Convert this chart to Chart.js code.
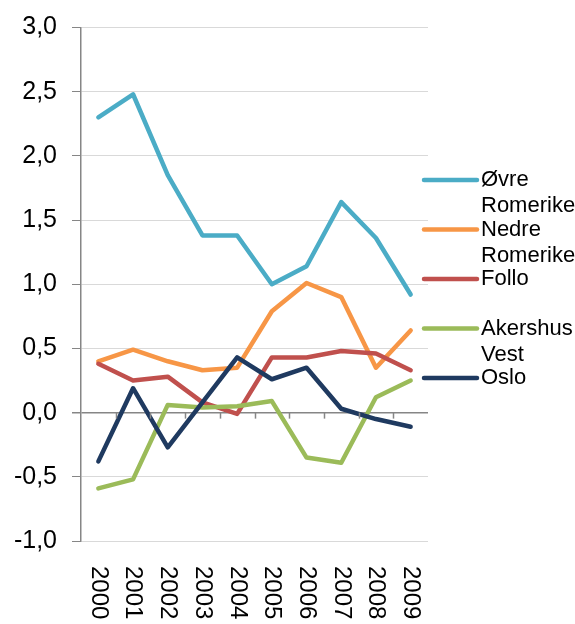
<!DOCTYPE html>
<html>
<head>
<meta charset="utf-8">
<script src="https://cdn.jsdelivr.net/npm/chart.js@4/dist/chart.umd.min.js"></script>
<style>
  html, body { margin: 0; padding: 0; background: #fff; }
  #wrap { width: 575px; height: 624px; }
</style>
</head>
<body>
<div id="wrap"><canvas id="chart" width="575" height="624"></canvas></div>
<script>
// data
const years = ["2000", "2001", "2002", "2003", "2004", "2005", "2006", "2007", "2008", "2009"];
const ovreRomerike = [2.30, 2.48, 1.85, 1.38, 1.38, 1.00, 1.14, 1.64, 1.36, 0.92];
const nedreRomerike = [0.40, 0.49, 0.40, 0.33, 0.35, 0.79, 1.01, 0.90, 0.35, 0.64];
const follo = [0.38, 0.25, 0.28, 0.08, -0.01, 0.43, 0.43, 0.48, 0.46, 0.33];
const akershusVest = [-0.59, -0.52, 0.06, 0.04, 0.05, 0.09, -0.35, -0.39, 0.12, 0.25];
const oslo = [-0.38, 0.19, -0.27, 0.08, 0.43, 0.26, 0.35, 0.03, -0.05, -0.11];

const seriesNames = [["Øvre", "Romerike"], ["Nedre", "Romerike"], ["Follo"], ["Akershus", "Vest"], ["Oslo"]];
const seriesColors = ["#4BACC6", "#F79646", "#C0504D", "#9BBB59", "#1F3A60"];
const seriesValues = [ovreRomerike, nedreRomerike, follo, akershusVest, oslo];

const FONT = "'Liberation Sans', Arial, sans-serif";
const axisGray = "#868686";

function makeDataset(i) {
    return {
        label: seriesNames[i].join(" "),
        data: seriesValues[i],
        borderColor: seriesColors[i],
        backgroundColor: seriesColors[i],
        borderWidth: 4.5,
        pointRadius: 0,
        tension: 0,
        borderCapStyle: "round",
        borderJoinStyle: "round",
        order: seriesValues.length - i   // later series drawn on top, like Excel
    };
}

// rotated year labels + small ticks on the zero line
const axisExtras = {
    id: "axisExtras",
    afterDraw(chart) {
        const ctx = chart.ctx;
        const x = chart.scales.x;
        const y = chart.scales.y;
        const zeroY = y.getPixelForValue(0);

        ctx.save();
        ctx.strokeStyle = axisGray;
        ctx.lineWidth = 1.5;
        for (let i = 0; i < years.length - 1; i++) {
            const bx = Math.round((x.getPixelForValue(i) + x.getPixelForValue(i + 1)) / 2) + 0.5;
            ctx.beginPath();
            ctx.moveTo(bx, zeroY);
            ctx.lineTo(bx, zeroY + 6);
            ctx.stroke();
        }

        ctx.fillStyle = "#000";
        ctx.font = "24px " + FONT;
        ctx.textAlign = "left";
        ctx.textBaseline = "middle";
        years.forEach((yr, i) => {
            ctx.save();
            ctx.translate(x.getPixelForValue(i), chart.chartArea.bottom + 25);
            ctx.rotate(Math.PI / 2);
            ctx.fillText(yr, 0, 0);
            ctx.restore();
        });
        ctx.restore();
    }
};

// legend on the right with wrapped names
const sideLegend = {
    id: "sideLegend",
    afterDraw(chart) {
        const ctx = chart.ctx;
        ctx.save();
        ctx.font = "22px " + FONT;
        ctx.textBaseline = "middle";
        ctx.textAlign = "left";
        seriesNames.forEach((name, i) => {
            const top = 180 + i * 49.5;
            ctx.strokeStyle = seriesColors[i];
            ctx.lineWidth = 4.5;
            ctx.lineCap = "round";
            ctx.beginPath();
            ctx.moveTo(424, top);
            ctx.lineTo(477, top);
            ctx.stroke();
            ctx.fillStyle = "#000";
            name.forEach((line, k) => ctx.fillText(line, 481, top + k * 26));
        });
        ctx.restore();
    }
};

new Chart(document.getElementById("chart"), {
    type: "line",
    data: {
        labels: years,
        datasets: seriesValues.map((v, i) => makeDataset(i))
    },
    options: {
        responsive: false,
        animation: false,
        layout: { padding: { top: 8, right: 147, left: 0, bottom: 0 } },
        plugins: {
            legend: { display: false },
            tooltip: { enabled: false }
        },
        scales: {
            x: {
                offset: true,
                grid: { display: false },
                border: { display: false },
                ticks: { display: false },
                afterFit(scale) { scale.height = 83; }
            },
            y: {
                min: -1,
                max: 3,
                ticks: {
                    stepSize: 0.5,
                    color: "#000",
                    padding: 15,
                    font: { family: FONT, size: 25, lineHeight: 1 },
                    callback: v => v.toFixed(1).replace(".", ",")
                },
                grid: {
                    color: ctx => ctx.tick && ctx.tick.value === 0 ? axisGray : "#D9D9D9",
                    lineWidth: ctx => ctx.tick && ctx.tick.value === 0 ? 1.5 : 1,
                    tickColor: axisGray,
                    tickLength: 9
                },
                border: { color: axisGray, width: 1.5 },
                afterFit(scale) { scale.width = 81; }
            }
        }
    },
    plugins: [axisExtras, sideLegend]
});
</script>
</body>
</html>
